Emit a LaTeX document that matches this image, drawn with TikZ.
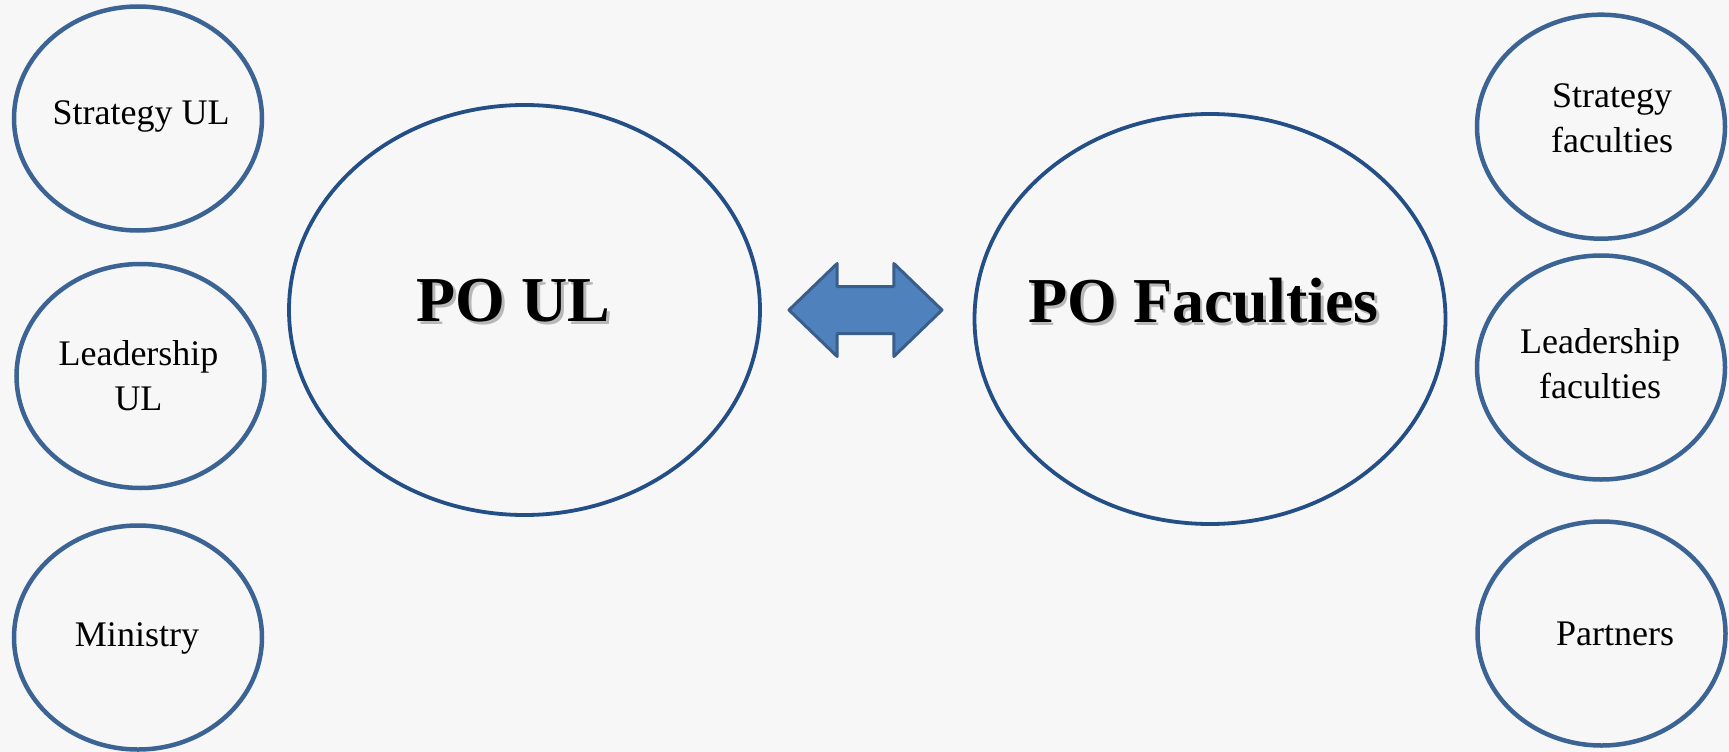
\documentclass[tikz,border=0pt]{standalone}
\usepackage{fontspec}
\setmainfont{Liberation Serif}
\usetikzlibrary{shapes.geometric}
\usetikzlibrary{shapes.arrows}
\definecolor{paper}{HTML}{F7F7F7}
\definecolor{ringblue}{HTML}{3B6494}
\definecolor{coreblue}{HTML}{234E86}
\definecolor{arrowfill}{HTML}{4F81BD}
\definecolor{arrowline}{HTML}{3A5E8C}

\begin{document}
\begin{tikzpicture}[x=1pt, y=-1pt,
    ring/.style = {ellipse, draw=ringblue, line width=4.5pt, inner sep=0pt,
      minimum width=248pt, minimum height=224pt},
    core/.style = {ellipse, draw=coreblue, line width=3.8pt, inner sep=0pt,
      minimum width=471pt, minimum height=410pt},
    smalltext/.style = {font=\fontsize{36}{45}\selectfont, align=center, inner sep=0pt},
    bigtext/.style = {font=\fontsize{64}{70}\selectfont\bfseries, inner sep=0pt},
    bigshade/.style = {bigtext, text=black!28}]
  \useasboundingbox (0,0) rectangle (1729,752);
  \fill[paper] (0,0) rectangle (1729,752);

  % left column
  \node[ring, label={[smalltext, xshift=3pt, yshift=1.7pt]center:Strategy UL}]
    (stratul) at (138,118.5) {};
  \node[ring, label={[smalltext, xshift=-2pt, yshift=0pt]center:Leadership\\UL}]
    (leadul) at (140.5,376) {};
  \node[ring, label={[smalltext, xshift=-1pt, yshift=-1.1pt]center:Ministry}]
    (ministry) at (138,637.5) {};

  % the two offices
  \node[core, label={[bigshade, xshift=-8.5pt, yshift=6.7pt]center:PO UL},
    label={[bigtext, xshift=-11pt, yshift=9.2pt]center:PO UL}]
    (poul) at (524.5,310) {};
  \node[core, label={[bigshade, xshift=-4pt, yshift=15.7pt]center:PO Faculties},
    label={[bigtext, xshift=-6.5pt, yshift=18.2pt]center:PO Faculties}]
    (pofac) at (1210,319) {};
  \node[double arrow, draw=arrowline, fill=arrowfill, line width=3pt, line join=round,
    inner sep=0pt, text height=44pt, text depth=0pt, minimum width=90pt, minimum height=153pt,
    double arrow head extend=23pt, double arrow tip angle=88] (link) at (865.5,310) {};

  % right column
  \node[ring, label={[smalltext, xshift=11pt, yshift=8pt]center:Strategy\\faculties}]
    (stratfac) at (1601,126.7) {};
  \node[ring, label={[smalltext, xshift=-1pt, yshift=4pt]center:Leadership\\faculties}]
    (leadfac) at (1601,367.5) {};
  \node[ring, label={[smalltext, xshift=13.5pt, yshift=-0.5pt]center:Partners}]
    (partners) at (1601.5,633.5) {};
\end{tikzpicture}
\end{document}
